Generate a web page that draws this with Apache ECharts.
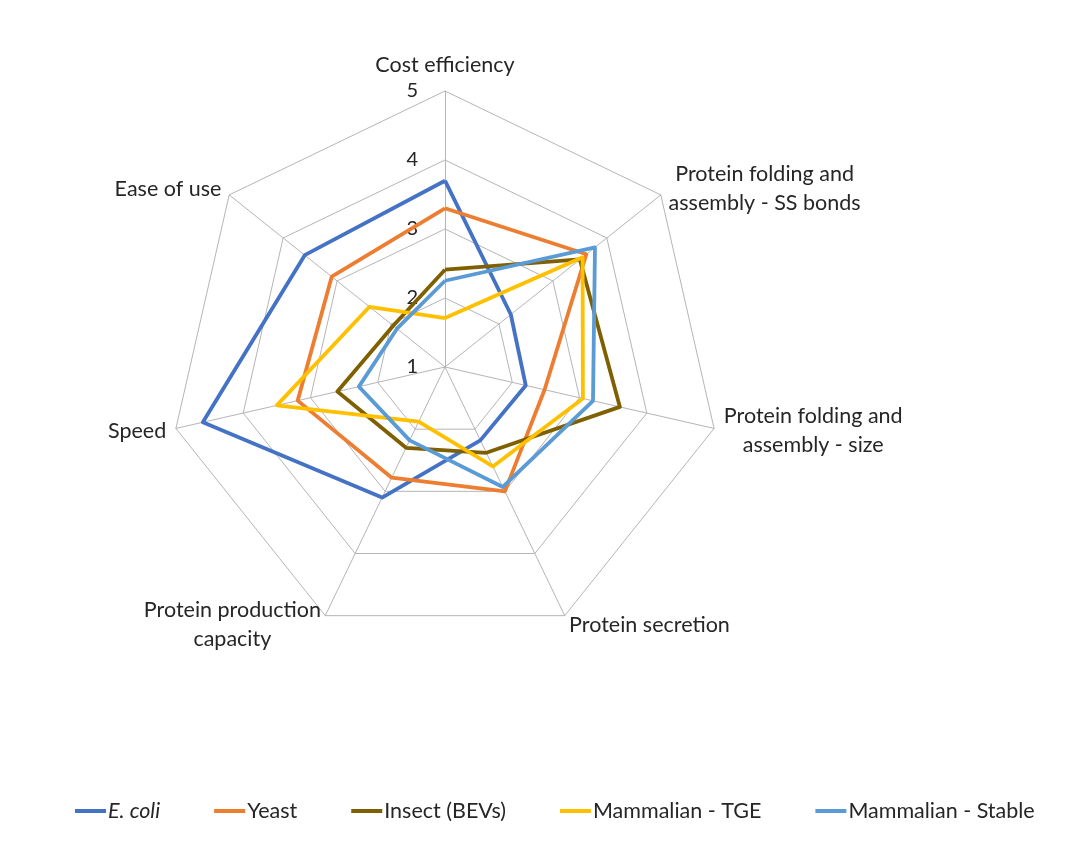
<!DOCTYPE html>
<html><head><meta charset="utf-8">
<script src="https://cdn.jsdelivr.net/npm/echarts@6/dist/echarts.min.js"></script>
<style>html,body{margin:0;padding:0;background:#fff}#c{width:1080px;height:849px}</style>
</head><body><div id="c"></div>
<script>
// Axes in ECharts order (top first, then counter-clockwise)
const categories = ['Cost efficiency', 'Ease of use', 'Speed', 'Protein production\ncapacity',
  'Protein secretion', 'Protein folding and\nassembly - size', 'Protein folding and\nassembly - SS bonds'];
const seriesNames = ['E. coli', 'Yeast', 'Insect (BEVs)', 'Mammalian - TGE', 'Mammalian - Stable'];
const ecoli  = [3.70, 3.60, 4.60, 3.10, 2.18, 2.20, 2.22];
const yeast  = [3.30, 3.10, 3.19, 2.78, 3.00, 2.48, 3.62];
const insect = [2.41, 1.96, 2.60, 2.30, 2.38, 3.60, 3.50];
const tge    = [1.71, 2.40, 3.50, 1.88, 2.60, 3.05, 3.55];
const stable = [2.25, 1.89, 2.28, 2.18, 2.93, 3.20, 3.78];
const axisMin = 1, axisMax = 5, axisSplits = 4;

const colors = ['#4472C4', '#ED7D31', '#7F6000', '#FFC000', '#5B9BD5'];
const values = [ecoli, yeast, insect, tge, stable];
const FONT = 'Lato';
const TXT = '#262626';
const FS = 21.5;

const indicator = categories.map(function (n, i) {
  const o = { name: n, min: axisMin, max: axisMax, nameGap: i === 0 ? 11 : 10 };
  if (i === 0) o.axisLabel = { show: true };
  return o;
});

const chart = echarts.init(document.getElementById('c'));
chart.setOption({
  backgroundColor: '#fff',
  animation: false,
  legend: {
    left: 75, top: 800, padding: 0,
    itemWidth: 31, itemHeight: 4, itemGap: 54, icon: 'rect',
    data: seriesNames,
    formatter: function (n) { return n === 'E. coli' ? '{i|E. coli}' : n; },
    textStyle: {
      fontSize: FS, fontFamily: FONT, color: TXT, padding: [0, 0, 0, -3],
      rich: { i: { fontStyle: 'italic', fontSize: FS, fontFamily: FONT, color: TXT } }
    }
  },
  radar: {
    center: [445, 367], radius: 276, startAngle: 90,
    splitNumber: axisSplits, shape: 'polygon',
    indicator: indicator,
    axisName: {
      color: TXT, fontSize: FS, fontFamily: FONT, lineHeight: 29,
      formatter: function (name) {
        return name.split('\n').map(function (s) { return '{c|' + s + '}'; }).join('\n');
      },
      rich: { c: { align: 'center', fontSize: FS, fontFamily: FONT, color: TXT, lineHeight: 29 } }
    },
    axisLine: { lineStyle: { color: '#b5b5b5', width: 1 } },
    splitLine: { lineStyle: { color: '#b5b5b5', width: 1 } },
    splitArea: { show: false },
    axisTick: { show: false },
    axisLabel: { show: false, color: TXT, fontSize: 20, fontFamily: FONT, margin: 27, padding: [4, 0, 0, 0] }
  },
  series: [{
    type: 'radar',
    symbol: 'none',
    data: seriesNames.map(function (n, i) {
      return {
        name: n, value: values[i],
        lineStyle: { color: colors[i], width: 3.8 },
        itemStyle: { color: colors[i] }
      };
    })
  }]
});
</script></body></html>
